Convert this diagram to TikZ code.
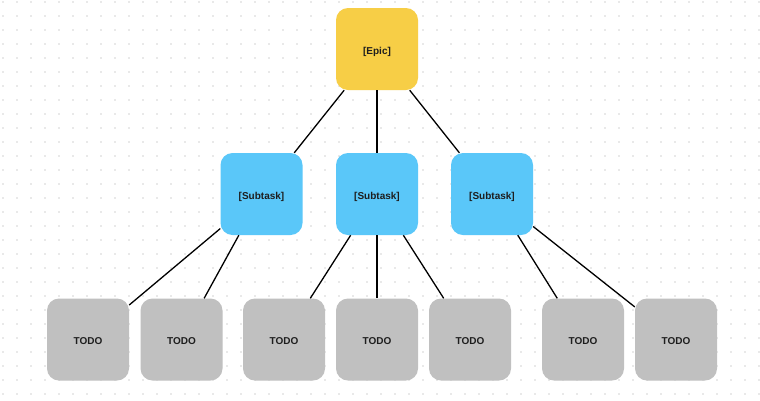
\documentclass[tikz,border=0pt]{standalone}
\usepackage{fontspec}
\setmainfont{Liberation Sans}
\definecolor{epicyellow}{RGB}{247,206,70}
\definecolor{subblue}{RGB}{90,199,249}
\definecolor{todogray}{RGB}{192,192,192}
\definecolor{dotgray}{RGB}{212,212,212}
\definecolor{labeltext}{RGB}{30,30,30}

\begin{document}
\begin{tikzpicture}[x=1pt,y=1pt]
            \tikzstyle{every node}+=[inner sep=0pt,text=labeltext,text height=10pt,text depth=0pt,font=\fontsize{10}{12}\selectfont\bfseries]
            \tikzstyle{card}=[rectangle,rounded corners=12pt,minimum width=82pt,minimum height=82pt]
            \useasboundingbox (0,0) rectangle (760,-400);
            \fill [white] (0,0) rectangle (760,-400);
            % dot grid
            \foreach \gx in {3,17,...,759}
              \foreach \gy in {2,16,...,398}
                \fill [dotgray] (\gx,-\gy) circle (0.8);
            % epic
            \node [card,fill=epicyellow] (epic) at (377,-49) {[Epic]};
            % subtasks
            \node [card,fill=subblue] (sub1) at (261.5,-194) {[Subtask]};
            \node [card,fill=subblue] (sub2) at (377,-194) {[Subtask]};
            \node [card,fill=subblue] (sub3) at (492,-194) {[Subtask]};
            % todos
            \node [card,fill=todogray] (todo1) at (88,-339.5) {TODO};
            \node [card,fill=todogray] (todo2) at (181.5,-339.5) {TODO};
            \node [card,fill=todogray] (todo3) at (284,-339.5) {TODO};
            \node [card,fill=todogray] (todo4) at (377,-339.5) {TODO};
            \node [card,fill=todogray] (todo5) at (470,-339.5) {TODO};
            \node [card,fill=todogray] (todo6) at (583,-339.5) {TODO};
            \node [card,fill=todogray] (todo7) at (676,-339.5) {TODO};
            % links
            \draw [black,line width=1.3pt] (epic) -- (sub1);
            \draw [black,line width=1.3pt] (epic) -- (sub2);
            \draw [black,line width=1.3pt] (epic) -- (sub3);
            \draw [black,line width=1.3pt] (sub1) -- (todo1);
            \draw [black,line width=1.3pt] (sub1) -- (todo2);
            \draw [black,line width=1.3pt] (sub2) -- (todo3);
            \draw [black,line width=1.3pt] (sub2) -- (todo4);
            \draw [black,line width=1.3pt] (sub2) -- (todo5);
            \draw [black,line width=1.3pt] (sub3) -- (todo6);
            \draw [black,line width=1.3pt] (sub3) -- (todo7);
\end{tikzpicture}
\end{document}
